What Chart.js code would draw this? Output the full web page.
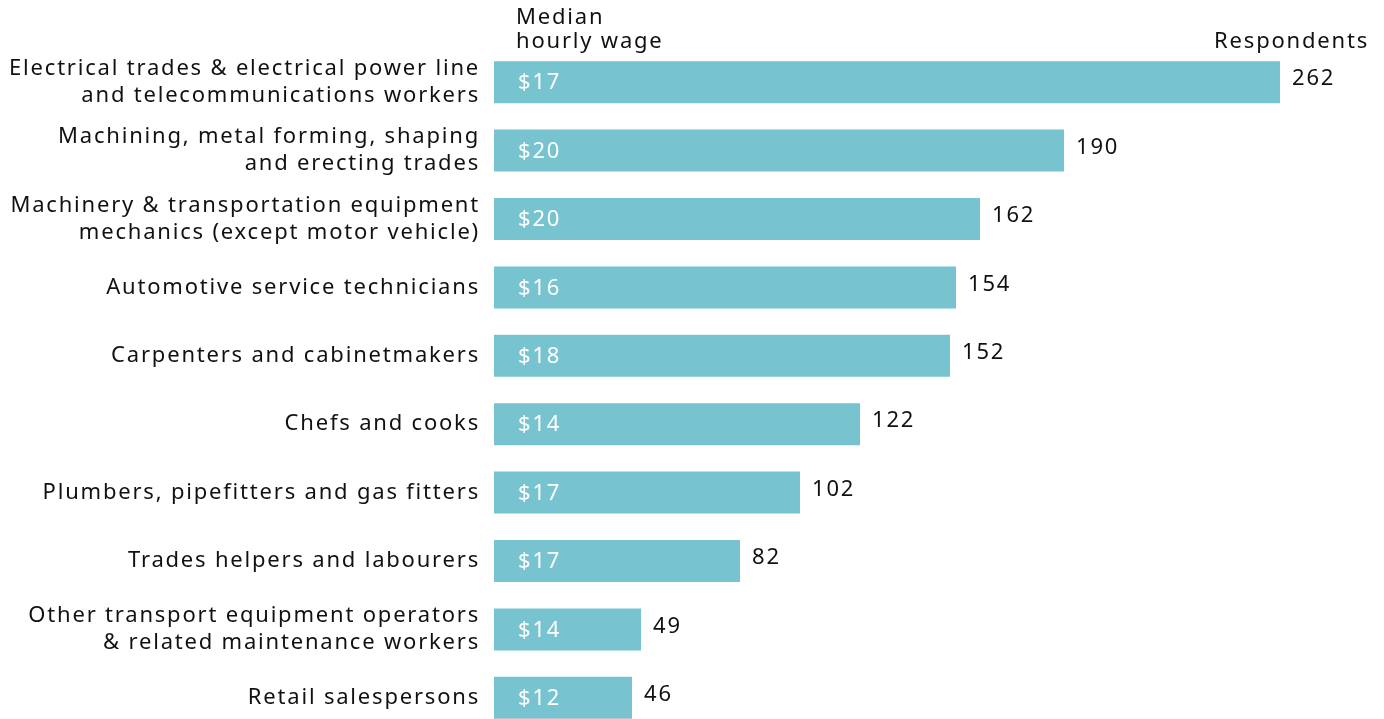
<!DOCTYPE html>
<html>
<head>
<meta charset="utf-8">
<script src="https://cdn.jsdelivr.net/npm/chart.js@4/dist/chart.umd.min.js"></script>
<style>
  html, body { margin: 0; padding: 0; background: #fff; overflow: hidden; }
  canvas { display: block; }
</style>
</head>
<body>
<canvas id="chart" width="1384" height="732"></canvas>
<script>
// occupations (y categories)
var occupations = [
  ["Electrical trades & electrical power line", "and telecommunications workers"],
  ["Machining, metal forming, shaping", "and erecting trades"],
  ["Machinery & transportation equipment", "mechanics (except motor vehicle)"],
  "Automotive service technicians",
  "Carpenters and cabinetmakers",
  "Chefs and cooks",
  "Plumbers, pipefitters and gas fitters",
  "Trades helpers and labourers",
  ["Other transport equipment operators", "& related maintenance workers"],
  "Retail salespersons"
];
// number of respondents (bar length)
var respondents = [262, 190, 162, 154, 152, 122, 102, 82, 49, 46];
// median hourly wage ($), shown inside each bar
var medianWage = [17, 20, 20, 16, 18, 14, 17, 17, 14, 12];

var barColor  = "#77c3d0";
var textColor = "#111111";
var fontFam   = "'Noto Sans', sans-serif";
var spacing   = "1.8px";

// tracked lettering like the original
var trackPlugin = {
  id: "track",
  beforeUpdate: function (chart) { chart.ctx.letterSpacing = spacing; },
  beforeDraw: function (chart) { chart.ctx.letterSpacing = spacing; }
};

// labels inside / after the bars + column headers
var labelPlugin = {
  id: "labels",
  afterDatasetsDraw: function (chart) {
    var ctx = chart.ctx;
    var meta = chart.getDatasetMeta(0);
    var xs = chart.scales.x;
    ctx.save();
    ctx.letterSpacing = spacing;
    ctx.font = "22px " + fontFam;
    ctx.textBaseline = "middle";
    meta.data.forEach(function (bar, i) {
      ctx.fillStyle = "#ffffff";
      ctx.textAlign = "left";
      ctx.fillText("$" + medianWage[i], xs.left + 24, bar.y + 1);
      ctx.fillStyle = textColor;
      ctx.fillText(String(respondents[i]), bar.x + 12, bar.y - 3);
    });
    // headers
    ctx.textBaseline = "alphabetic";
    ctx.textAlign = "left";
    ctx.fillText("Median", xs.left + 22, 24);
    ctx.fillText("hourly wage", xs.left + 22, 48);
    ctx.textAlign = "right";
    ctx.fillText("Respondents", 1369, 48);
    ctx.restore();
  }
};

var ctx = document.getElementById("chart").getContext("2d");
var chart = new Chart(ctx, {
  type: "bar",
  data: {
    labels: occupations,
    datasets: [{
      label: "Respondents",
      data: respondents,
      backgroundColor: barColor,
      borderWidth: 0,
      categoryPercentage: 1.0,
      barPercentage: 0.614
    }]
  },
  options: {
    indexAxis: "y",
    responsive: false,
    animation: false,
    layout: { padding: { top: 48, right: 2, left: 0, bottom: 0 } },
    plugins: {
      legend: { display: false },
      tooltip: { enabled: false }
    },
    scales: {
      x: {
        display: false,
        min: 0,
        max: 296
      },
      y: {
        grid: { display: false, drawTicks: false },
        border: { display: false },
        afterFit: function (scale) {
          scale.width = 494;
          scale.paddingTop = 0;
          scale.paddingBottom = 0;
        },
        ticks: {
          color: textColor,
          padding: 14,
          font: { family: fontFam, size: 22, lineHeight: 1.22 }
        }
      }
    }
  },
  plugins: [trackPlugin, labelPlugin]
});
</script>
</body>
</html>
